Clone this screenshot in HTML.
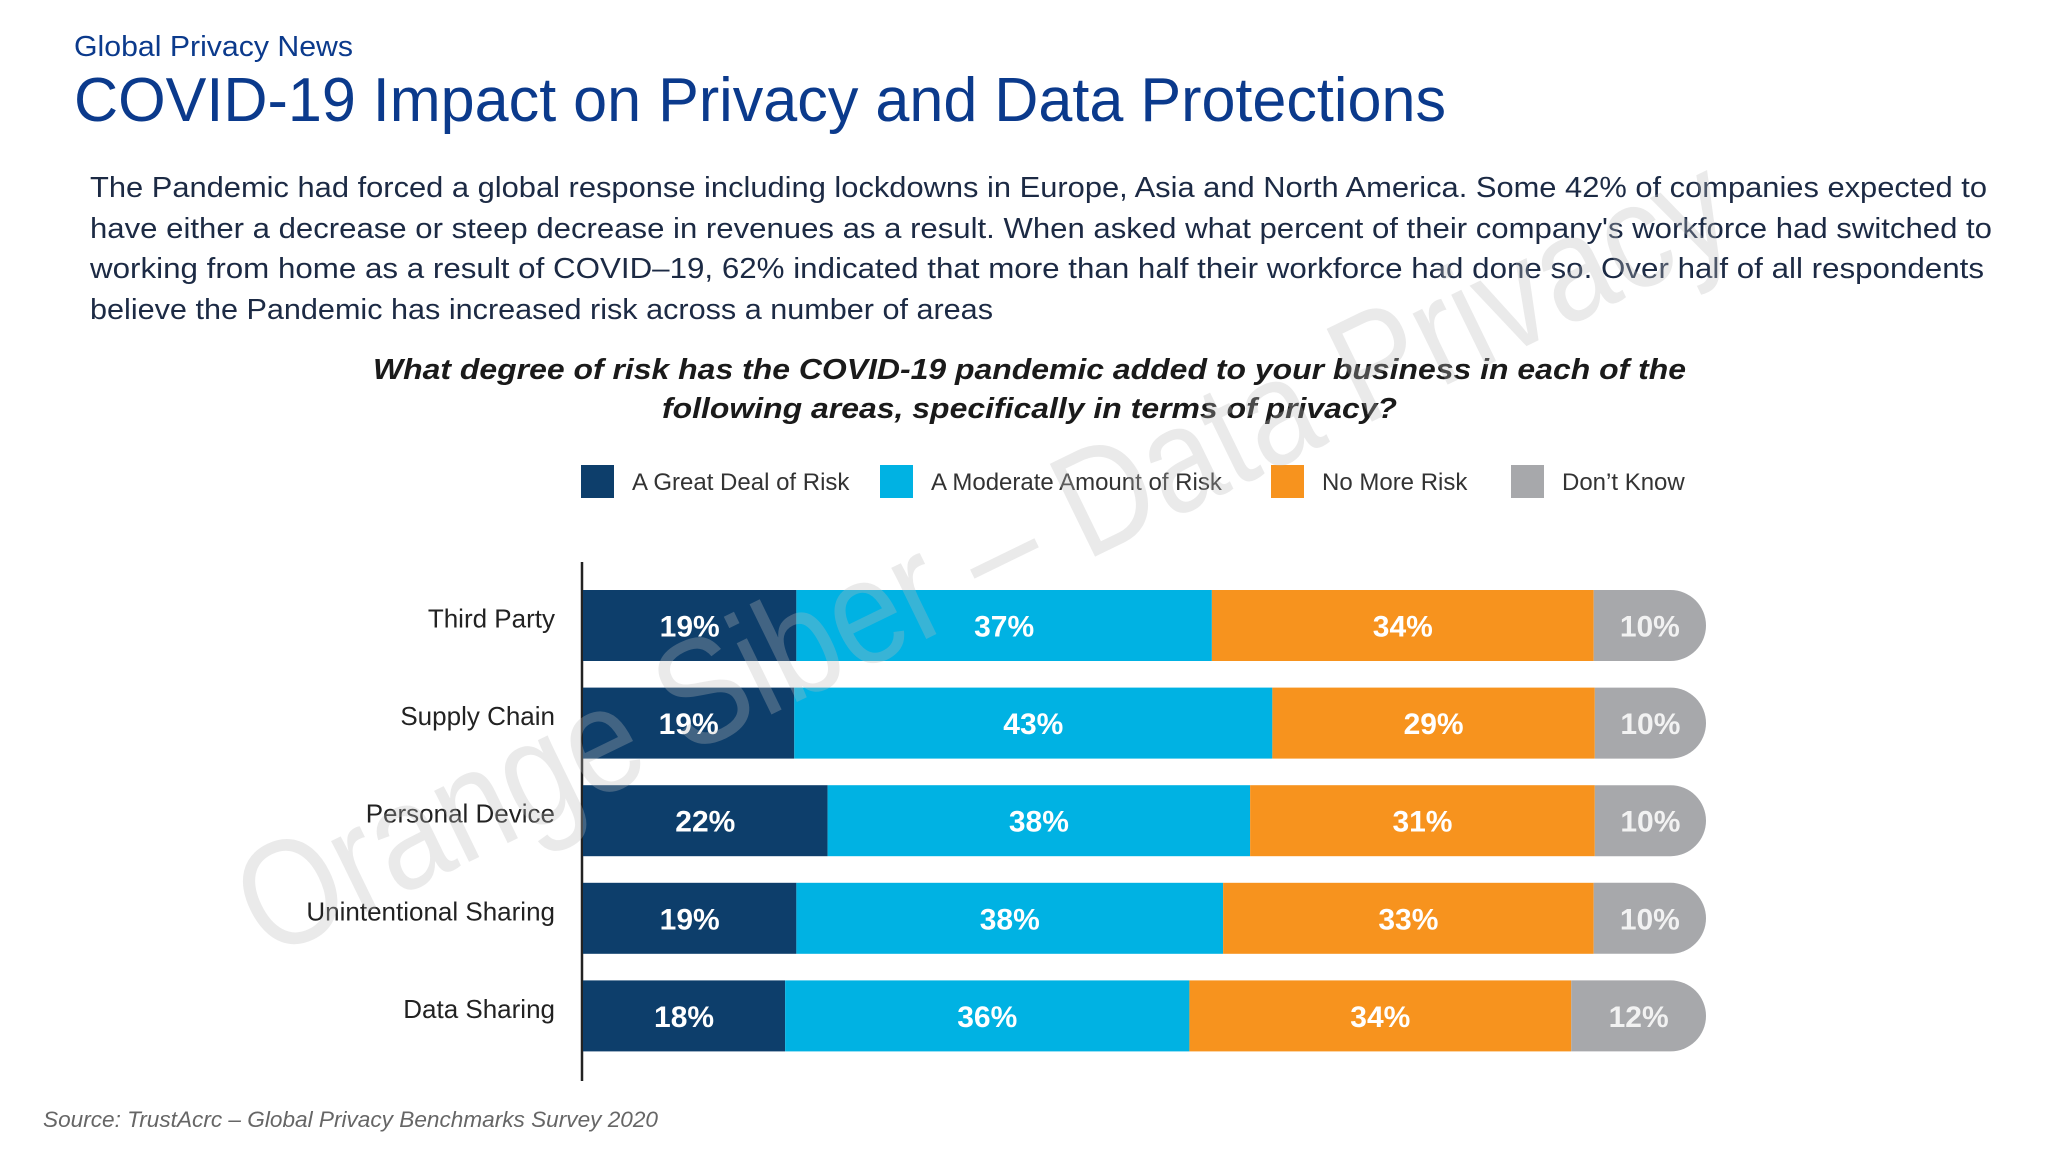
<!DOCTYPE html>
<html><head><meta charset="utf-8"><style>
html,body{margin:0;padding:0;background:#fff;width:2048px;height:1152px;overflow:hidden}
svg{display:block}
</style></head><body>
<svg id="chart" width="2048" height="1152" viewBox="0 0 2048 1152" xmlns="http://www.w3.org/2000/svg" font-family="'Liberation Sans', sans-serif">
<text x="74" y="56" font-size="29" fill="#0b3a8c" textLength="279" lengthAdjust="spacingAndGlyphs">Global Privacy News</text>
<text x="74" y="121" font-size="62" fill="#0b3a8c" textLength="1372" lengthAdjust="spacingAndGlyphs">COVID-19 Impact on Privacy and Data Protections</text>
<g font-size="29" fill="#1c2a44">
<text x="90" y="197" textLength="1897" lengthAdjust="spacingAndGlyphs">The Pandemic had forced a global response including lockdowns in Europe, Asia and North America. Some 42% of companies expected to</text>
<text x="90" y="238" textLength="1902" lengthAdjust="spacingAndGlyphs">have either a decrease or steep decrease in revenues as a result. When asked what percent of their company's workforce had switched to</text>
<text x="90" y="278" textLength="1894" lengthAdjust="spacingAndGlyphs">working from home as a result of COVID–19, 62% indicated that more than half their workforce had done so. Over half of all respondents</text>
<text x="90" y="319" textLength="903" lengthAdjust="spacingAndGlyphs">believe the Pandemic has increased risk across a number of areas</text>
</g>
<g font-size="29" font-weight="bold" font-style="italic" fill="#1a1a1a">
<text x="373" y="379" textLength="1313" lengthAdjust="spacingAndGlyphs">What degree of risk has the COVID-19 pandemic added to your business in each of the</text>
<text x="662" y="418" textLength="735" lengthAdjust="spacingAndGlyphs">following areas, specifically in terms of privacy?</text>
</g>
<g id="legend"></g>
<line x1="582" y1="562" x2="582" y2="1081" stroke="#222" stroke-width="2.5"/>
<g id="bars"></g>
<g id="labels"></g>
<text x="43" y="1127" font-size="22" font-style="italic" fill="#666" textLength="615" lengthAdjust="spacingAndGlyphs">Source: TrustAcrc – Global Privacy Benchmarks Survey 2020</text>
<text x="0" y="0" font-size="150" fill="#bbb" opacity="0.3" transform="translate(268,960) rotate(-26)" textLength="1640" lengthAdjust="spacingAndGlyphs">Orange Siber – Data Privacy</text>
</svg>
<script>
const categories = ["Third Party","Supply Chain","Personal Device","Unintentional Sharing","Data Sharing"];
const greatDeal = [19,19,22,19,18];
const moderate = [37,43,38,38,36];
const noMore = [34,29,31,33,34];
const dontKnow = [10,10,10,10,12];
const seriesNames = ["A Great Deal of Risk","A Moderate Amount of Risk","No More Risk","Don’t Know"];
const colors = ["#0d3e6b","#00b2e3","#f7931e","#a7a8ab"];
const NS = "http://www.w3.org/2000/svg";
const x0 = 583, fullW = 1123, rowTop = 590, rowStep = 97.6, barH = 71;
function xs(v, total){ return x0 + v/total*fullW; }
function ys(i){ return rowTop + i*rowStep; }
const series = [greatDeal, moderate, noMore, dontKnow];
const bars = document.getElementById('bars');
const labels = document.getElementById('labels');
categories.forEach((c,i)=>{
  let cum = 0;
  const total = series.reduce((a,s)=>a+s[i],0);
  const y = ys(i);
  series.forEach((s,k)=>{
    const v = s[i];
    const xa = xs(cum,total), xb = xs(cum+v,total);
    let el;
    if (k === series.length-1) {
      const r = barH/2;
      el = document.createElementNS(NS,'path');
      el.setAttribute('d', `M${xa},${y} H${xb-r} A${r},${r} 0 0 1 ${xb-r},${y+barH} H${xa} Z`);
    } else {
      el = document.createElementNS(NS,'rect');
      el.setAttribute('x', xa); el.setAttribute('y', y);
      el.setAttribute('width', xb-xa); el.setAttribute('height', barH);
    }
    el.setAttribute('fill', colors[k]);
    
    
    bars.appendChild(el);
    const t = document.createElementNS(NS,'text');
    t.setAttribute('x', (xa+xb)/2);
    t.setAttribute('y', y+barH/2+11);
    t.setAttribute('text-anchor','middle');
    t.setAttribute('font-size','30');
    t.setAttribute('font-weight','bold');
    t.setAttribute('fill', k===3 ? '#f2f2f2' : '#fff');
    t.textContent = v + '%';
    
    
    bars.appendChild(t);
    cum += v;
  });
  const l = document.createElementNS(NS,'text');
  l.setAttribute('x', 555);
  l.setAttribute('y', y+barH/2+2);
  l.setAttribute('text-anchor','end');
  l.setAttribute('font-size','26');
  l.setAttribute('fill','#222');
  l.textContent = c;
  
  
  labels.appendChild(l);
});
const legend = document.getElementById('legend');
const lgX = [581, 880, 1271, 1511];
seriesNames.forEach((n,k)=>{
  const r = document.createElementNS(NS,'rect');
  r.setAttribute('x', lgX[k]); r.setAttribute('y', 465);
  r.setAttribute('width', 33); r.setAttribute('height', 33);
  r.setAttribute('fill', colors[k]);
  
  
  legend.appendChild(r);
  const t = document.createElementNS(NS,'text');
  t.setAttribute('x', lgX[k]+51); t.setAttribute('y', 490);
  t.setAttribute('font-size','24'); t.setAttribute('fill','#333');
  t.textContent = n;
  
  
  legend.appendChild(t);
});
</script>
</body></html>
